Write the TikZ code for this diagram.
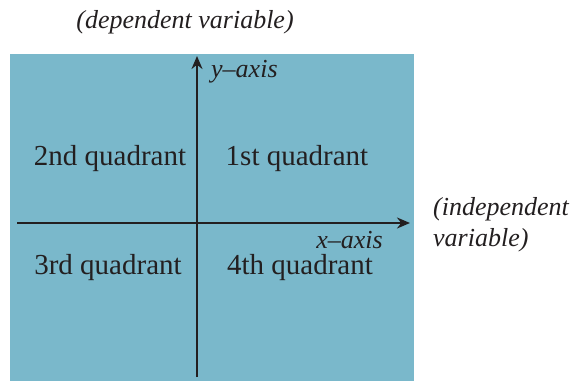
\documentclass[tikz,border=0pt]{standalone}
\usepackage{fontspec}
\setmainfont{Liberation Serif}
\usetikzlibrary{arrows.meta}
\definecolor{planeblue}{RGB}{122,184,203}
\definecolor{axisgray}{RGB}{35,31,32}

\begin{document}
\begin{tikzpicture}[
  x=1pt,y=-1pt,
  >={Stealth[length=13pt,width=11pt]},
  quad/.style={font=\fontsize{29}{33}\selectfont,text=axisgray,inner sep=0pt},
  lbl/.style={font=\fontsize{26}{31}\selectfont\itshape,text=axisgray,inner sep=0pt,align=left},
  axis/.style={->,line width=2.8pt,draw=axisgray}]
\useasboundingbox (0,0) rectangle (571,381);
\fill[planeblue] (10,54) rectangle (414,381);
% axes
\coordinate (xl) at (17,223);
\coordinate (xr) at (410,223);
\coordinate (yb) at (197,377);
\coordinate (yt) at (197,56);
\draw[axis] (xl) -- (xr);
\draw[axis] (yb) -- (yt);
% labels
\node[lbl] (dep) at (185,22) {(dependent variable)};
\node[lbl,anchor=west] (ylab) at (211,72) {y–axis};
\node[lbl,anchor=east] (xlab) at (383,240) {x–axis};
\node[lbl,anchor=west] (indep) at (433,225) {(independent\\variable)};
\node[quad] (q2) at (110,159) {2nd quadrant};
\node[quad] (q1) at (297,159) {1st quadrant};
\node[quad] (q3) at (108,268) {3rd quadrant};
\node[quad] (q4) at (300,268) {4th quadrant};
\end{tikzpicture}
\end{document}
